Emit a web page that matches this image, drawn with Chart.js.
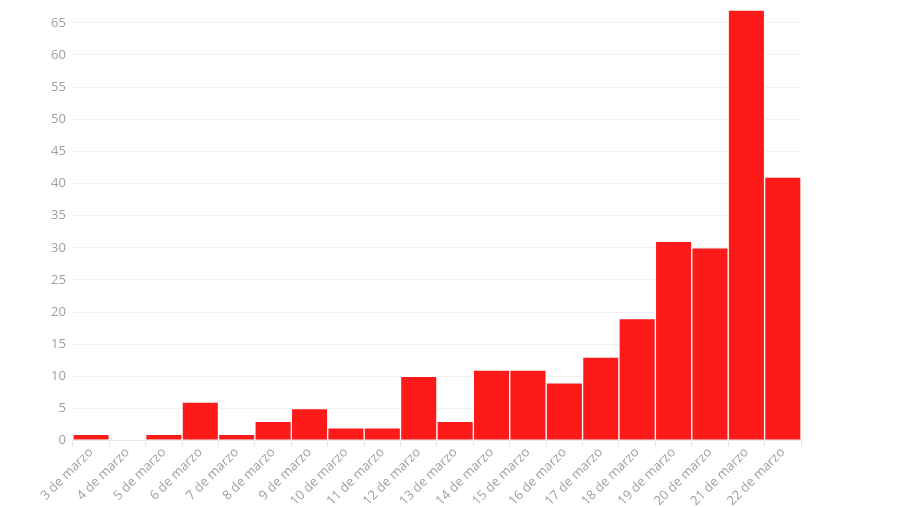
<!DOCTYPE html>
<html>
<head>
<meta charset="utf-8">
<script src="https://cdn.jsdelivr.net/npm/chart.js@4"></script>
<style>
  html, body { margin: 0; padding: 0; background: #fff; }
  #wrap { width: 900px; height: 507px; }
</style>
</head>
<body>
<div id="wrap"><canvas id="myChart"></canvas></div>
<script>
  // days of March
  const dias = [
    "3 de marzo", "4 de marzo", "5 de marzo", "6 de marzo", "7 de marzo",
    "8 de marzo", "9 de marzo", "10 de marzo", "11 de marzo", "12 de marzo",
    "13 de marzo", "14 de marzo", "15 de marzo", "16 de marzo", "17 de marzo",
    "18 de marzo", "19 de marzo", "20 de marzo", "21 de marzo", "22 de marzo",
  ];
  const casos = [1, 0, 1, 6, 1, 3, 5, 2, 2, 10, 3, 11, 11, 9, 13, 19, 31, 30, 67, 41];
  const yTicks = [0, 5, 10, 15, 20, 25, 30, 35, 40, 45, 50, 55, 60, 65];
  const yMax = 67;

  const ctx = document.getElementById("myChart").getContext("2d");
  new Chart(ctx, {
    type: "bar",
    data: {
      labels: dias,
      datasets: [
        {
          label: "Casos",
          data: casos,
          backgroundColor: "#ff1a1a",
          borderColor: "#ffffff",
          borderWidth: 1,
          borderSkipped: false,
          barPercentage: 1,
          categoryPercentage: 1,
        },
      ],
    },
    options: {
      responsive: true,
      maintainAspectRatio: false,
      animation: false,
      layout: { padding: { left: 44, right: 99, top: 10, bottom: 0 } },
      plugins: {
        legend: { display: false },
        tooltip: { enabled: false },
      },
      scales: {
        x: {
          grid: {
            drawOnChartArea: false,
            drawTicks: true,
            tickLength: 6,
            color: "#e6e6e6",
          },
          border: { display: true, color: "#e6e6e6" },
          ticks: {
            color: "#a0a0a0",
            font: { family: "Open Sans", size: 13 },
            maxRotation: 45,
            minRotation: 45,
            padding: -2,
          },
        },
        y: {
          min: 0,
          max: yMax,
          afterBuildTicks: (scale) => {
            scale.ticks = yTicks.map((v) => ({ value: v }));
          },
          afterFit: (scale) => {
            // 65 label sits well below the top, no extra room needed
            scale.paddingTop = 0;
          },
          grid: { color: "#efefef", drawTicks: false },
          border: { display: false },
          ticks: {
            color: "#a0a0a0",
            font: { family: "Open Sans", size: 13 },
            padding: 7,
          },
        },
      },
    },
  });
</script>
</body>
</html>
